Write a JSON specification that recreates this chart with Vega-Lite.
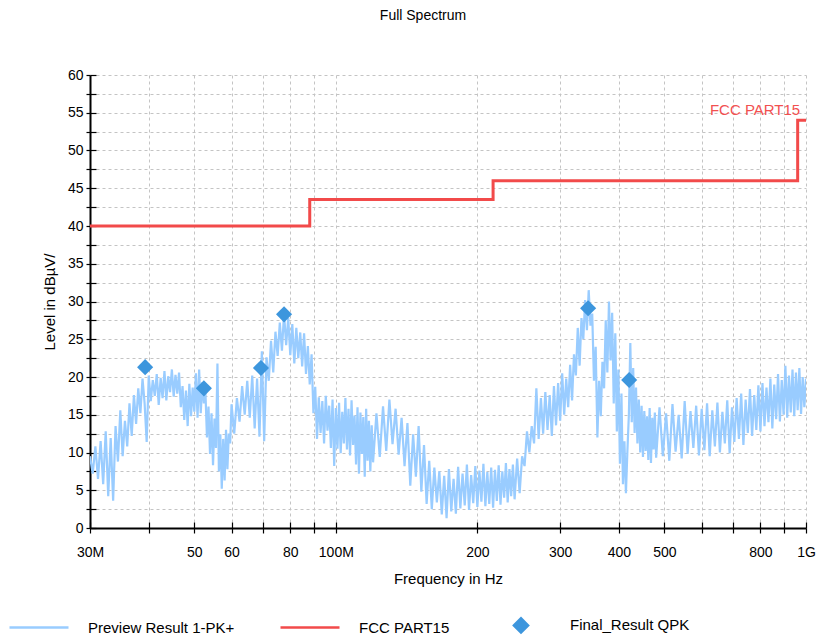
{
"$schema":"https://vega.github.io/schema/vega-lite/v6.json",
"width":716,"height":453,
"autosize":{"type":"none"},
"padding":{"left":90,"top":75,"right":18,"bottom":112},
"config":{"view":{"stroke":null},"font":"Liberation Sans"},
"title":{"text":"Full Spectrum","offset":45,"fontSize":14,"fontWeight":"normal","font":"Liberation Sans","color":"black","dx":-25},
"datasets":{
"spec":[
{"f":30.0,"v":9.5},{"f":30.4,"v":7.2},{"f":30.8,"v":10.8},{"f":31.2,"v":6.5},{"f":31.6,"v":11.5},{"f":32.0,"v":5.8},{"f":32.4,"v":12.8},{"f":32.8,"v":4.2},{"f":33.2,"v":11.9},{"f":33.6,"v":3.6},
{"f":34.0,"v":13.5},{"f":34.4,"v":8.8},{"f":34.8,"v":15.6},{"f":35.2,"v":9.5},{"f":35.6,"v":14.2},{"f":36.0,"v":10.8},{"f":36.4,"v":16.5},{"f":36.8,"v":12.2},{"f":37.2,"v":17.6},{"f":37.6,"v":13.8},
{"f":38.0,"v":18.5},{"f":38.4,"v":15.2},{"f":38.8,"v":19.8},{"f":39.2,"v":16.5},{"f":39.6,"v":11.4},{"f":40.0,"v":20.2},{"f":40.4,"v":16.8},{"f":40.8,"v":19.6},{"f":41.2,"v":17.5},{"f":41.6,"v":20.4},
{"f":42.0,"v":16.3},{"f":42.4,"v":19.9},{"f":42.8,"v":17.2},{"f":43.2,"v":20.8},{"f":43.6,"v":16.9},{"f":44.0,"v":20.1},{"f":44.4,"v":18.0},{"f":44.8,"v":21.0},{"f":45.2,"v":17.4},{"f":45.6,"v":20.3},
{"f":46.0,"v":17.8},{"f":46.4,"v":20.6},{"f":46.8,"v":16.0},{"f":47.2,"v":18.8},{"f":47.6,"v":14.3},{"f":48.0,"v":18.2},{"f":48.4,"v":13.5},{"f":48.8,"v":19.1},{"f":49.2,"v":14.8},{"f":49.6,"v":18.6},
{"f":50.0,"v":15.4},{"f":50.4,"v":20.5},{"f":50.8,"v":14.6},{"f":51.2,"v":21.0},{"f":51.6,"v":15.2},{"f":52.0,"v":19.3},{"f":52.4,"v":16.5},{"f":52.8,"v":18.0},{"f":53.2,"v":12.0},{"f":53.6,"v":16.1},
{"f":54.0,"v":9.8},{"f":54.4,"v":15.2},{"f":54.8,"v":8.3},{"f":55.2,"v":14.5},{"f":55.6,"v":10.6},{"f":56.0,"v":21.8},{"f":56.4,"v":7.5},{"f":56.8,"v":12.4},{"f":57.2,"v":5.2},{"f":57.6,"v":11.8},
{"f":58.0,"v":6.3},{"f":58.4,"v":13.0},{"f":58.8,"v":7.8},{"f":59.2,"v":12.5},{"f":59.6,"v":11.2},{"f":60.0,"v":16.4},
{"f":60.8,"v":12.5},{"f":61.6,"v":17.2},{"f":62.4,"v":14.1},{"f":63.2,"v":18.8},{"f":64.0,"v":15.0},{"f":64.8,"v":19.5},{"f":65.6,"v":14.6},{"f":66.4,"v":20.2},{"f":67.2,"v":13.2},{"f":68.0,"v":19.8},
{"f":68.8,"v":12.1},{"f":69.6,"v":23.4},{"f":70.4,"v":11.5},{"f":71.2,"v":22.6},{"f":72.0,"v":19.5},{"f":72.8,"v":24.8},{"f":73.6,"v":20.6},{"f":74.4,"v":26.0},{"f":75.2,"v":22.8},{"f":76.0,"v":27.2},
{"f":76.8,"v":23.5},{"f":77.6,"v":28.4},{"f":78.4,"v":24.2},{"f":79.2,"v":27.8},{"f":80.0,"v":22.9},{"f":80.8,"v":27.0},{"f":81.6,"v":21.8},{"f":82.4,"v":26.5},{"f":83.2,"v":22.5},{"f":84.0,"v":25.9},
{"f":84.8,"v":21.4},{"f":85.6,"v":25.8},{"f":86.4,"v":20.4},{"f":87.2,"v":24.1},{"f":88.0,"v":19.0},{"f":88.8,"v":23.0},{"f":89.6,"v":15.2},{"f":90.4,"v":18.7},{"f":91.2,"v":11.8},{"f":92.0,"v":17.3},
{"f":92.8,"v":12.6},{"f":93.6,"v":16.8},{"f":94.4,"v":11.2},{"f":95.2,"v":17.5},{"f":96.0,"v":12.9},{"f":96.8,"v":16.2},{"f":97.6,"v":10.6},{"f":98.4,"v":17.0},{"f":99.2,"v":8.2},{"f":100.0,"v":15.9},
{"f":100.8,"v":10.5},{"f":101.6,"v":16.6},{"f":102.4,"v":9.9},{"f":103.2,"v":15.4},{"f":104.0,"v":11.2},{"f":104.8,"v":17.2},{"f":105.6,"v":10.4},{"f":106.4,"v":15.8},{"f":107.2,"v":9.6},{"f":108.0,"v":16.9},
{"f":108.8,"v":11.0},{"f":109.6,"v":14.9},{"f":110.4,"v":8.4},{"f":111.2,"v":16.0},{"f":112.0,"v":7.2},{"f":112.8,"v":15.3},{"f":113.6,"v":9.8},{"f":114.4,"v":14.7},{"f":115.2,"v":6.8},{"f":116.0,"v":15.8},
{"f":116.8,"v":8.9},{"f":117.6,"v":14.2},{"f":118.4,"v":7.5},{"f":119.2,"v":13.6},{"f":120.0,"v":8.7},
{"f":122,"v":15.2},{"f":124,"v":9.4},{"f":126,"v":16.1},{"f":128,"v":10.2},{"f":130,"v":17.0},{"f":132,"v":11.1},{"f":134,"v":15.8},{"f":136,"v":9.7},{"f":138,"v":14.6},{"f":140,"v":8.2},
{"f":142,"v":13.9},{"f":144,"v":5.6},{"f":146,"v":12.4},{"f":148,"v":6.8},{"f":150,"v":13.5},{"f":152,"v":4.8},{"f":154,"v":11.0},{"f":156,"v":3.2},{"f":158,"v":8.9},{"f":160,"v":2.5},
{"f":162,"v":8.0},{"f":164,"v":3.4},{"f":166,"v":7.5},{"f":168,"v":1.8},{"f":170,"v":6.9},{"f":172,"v":1.3},{"f":174,"v":7.8},{"f":176,"v":2.2},{"f":178,"v":6.5},{"f":180,"v":1.9},
{"f":182,"v":8.1},{"f":184,"v":2.6},{"f":186,"v":7.2},{"f":188,"v":3.0},{"f":190,"v":8.4},{"f":192,"v":2.4},{"f":194,"v":7.0},{"f":196,"v":3.3},{"f":198,"v":8.2},{"f":200,"v":2.8},
{"f":202,"v":7.6},{"f":204,"v":3.5},{"f":206,"v":8.5},{"f":208,"v":2.9},{"f":210,"v":7.4},{"f":212,"v":3.2},{"f":214,"v":8.0},{"f":216,"v":2.7},{"f":218,"v":7.7},{"f":220,"v":3.6},
{"f":222,"v":8.3},{"f":224,"v":3.1},{"f":226,"v":7.5},{"f":228,"v":4.0},{"f":230,"v":8.6},{"f":232,"v":3.4},{"f":234,"v":7.8},{"f":236,"v":4.2},{"f":238,"v":8.4},{"f":240,"v":3.8},
{"f":243,"v":9.2},{"f":246,"v":4.6},{"f":249,"v":9.5},{"f":252,"v":8.2},{"f":255,"v":12.8},{"f":258,"v":10.0},{"f":261,"v":13.5},{"f":264,"v":11.2},{"f":267,"v":18.5},{"f":270,"v":11.8},
{"f":273,"v":17.2},{"f":276,"v":12.5},{"f":279,"v":18.0},{"f":282,"v":13.0},{"f":285,"v":17.6},{"f":288,"v":12.2},{"f":291,"v":18.8},{"f":294,"v":13.6},{"f":297,"v":19.2},{"f":300,"v":14.2},
{"f":303,"v":20.5},{"f":306,"v":15.0},{"f":309,"v":19.8},{"f":312,"v":16.0},{"f":315,"v":21.6},{"f":318,"v":16.9},{"f":321,"v":23.0},{"f":324,"v":20.2},{"f":327,"v":26.5},{"f":330,"v":21.5},
{"f":333,"v":27.8},{"f":336,"v":25.0},{"f":339,"v":30.2},{"f":342,"v":26.2},{"f":345,"v":31.5},{"f":348,"v":26.8},{"f":351,"v":28.4},{"f":354,"v":19.5},{"f":357,"v":24.0},{"f":360,"v":12.0},
{"f":363,"v":19.5},{"f":366,"v":14.8},{"f":369,"v":22.0},{"f":372,"v":18.5},{"f":375,"v":27.5},{"f":378,"v":20.6},{"f":381,"v":30.0},{"f":384,"v":22.2},{"f":387,"v":28.5},{"f":390,"v":16.5},
{"f":393,"v":25.8},{"f":396,"v":12.8},{"f":399,"v":21.0},{"f":402,"v":8.5},{"f":405,"v":17.8},{"f":408,"v":5.8},{"f":411,"v":11.5},{"f":414,"v":4.6},{"f":417,"v":10.2},{"f":420,"v":15.0},
{"f":423,"v":24.5},{"f":426,"v":14.0},{"f":429,"v":21.2},{"f":432,"v":12.6},{"f":435,"v":18.6},{"f":438,"v":11.2},{"f":441,"v":17.0},{"f":444,"v":10.0},{"f":447,"v":16.2},{"f":450,"v":9.4},
{"f":453,"v":15.5},{"f":456,"v":10.2},{"f":459,"v":14.8},{"f":462,"v":9.0},{"f":465,"v":15.9},{"f":468,"v":8.6},{"f":471,"v":14.6},{"f":474,"v":10.4},{"f":477,"v":15.3},{"f":480,"v":9.3},
{"f":488,"v":16.0},{"f":496,"v":9.5},{"f":504,"v":15.2},{"f":512,"v":8.9},{"f":520,"v":16.4},{"f":528,"v":10.1},{"f":536,"v":15.0},{"f":544,"v":9.2},{"f":552,"v":16.8},{"f":560,"v":9.8},
{"f":568,"v":15.5},{"f":576,"v":10.6},{"f":584,"v":16.2},{"f":592,"v":9.6},{"f":600,"v":15.8},{"f":608,"v":10.3},{"f":616,"v":16.5},{"f":624,"v":9.5},{"f":632,"v":15.6},{"f":640,"v":10.8},
{"f":648,"v":16.6},{"f":656,"v":10.0},{"f":664,"v":15.4},{"f":672,"v":11.2},{"f":680,"v":16.9},{"f":688,"v":9.9},{"f":696,"v":16.0},{"f":704,"v":11.4},{"f":712,"v":17.2},{"f":720,"v":11.8},
{"f":728,"v":17.8},{"f":736,"v":11.0},{"f":744,"v":17.0},{"f":752,"v":12.6},{"f":760,"v":18.4},{"f":768,"v":12.2},{"f":776,"v":17.6},{"f":784,"v":13.0},{"f":792,"v":18.9},{"f":800,"v":12.8},
{"f":808,"v":19.2},{"f":816,"v":13.5},{"f":824,"v":18.6},{"f":832,"v":14.0},{"f":840,"v":19.8},{"f":848,"v":13.2},{"f":856,"v":19.0},{"f":864,"v":14.4},{"f":872,"v":20.4},{"f":880,"v":14.1},
{"f":888,"v":19.6},{"f":896,"v":15.0},{"f":904,"v":21.5},{"f":912,"v":14.6},{"f":920,"v":20.2},{"f":928,"v":15.3},{"f":936,"v":21.0},{"f":944,"v":14.8},{"f":952,"v":20.6},{"f":960,"v":15.6},
{"f":968,"v":21.2},{"f":976,"v":15.1},{"f":984,"v":20.0},{"f":992,"v":16.0},{"f":1000,"v":19.8}
],
"limit":[{"f":30,"v":40},{"f":88,"v":43.5},{"f":216,"v":46},{"f":960,"v":54},{"f":1000,"v":54}],
"qpk":[{"f":39.3,"v":21.3},{"f":52.4,"v":18.5},{"f":69.3,"v":21.2},{"f":77.6,"v":28.3},{"f":344,"v":29.1},{"f":420.6,"v":19.6}],
"lbl":[{"f":972,"v":55.3,"t":"FCC PART15"}]
},
"layer":[
{"data":{"name":"spec"},
 "mark":{"type":"line","strokeWidth":2.2,"clip":true},
 "encoding":{
  "x":{"field":"f","type":"quantitative","scale":{"type":"log","domain":[30,1000],"nice":false},
   "axis":{"orient":"bottom","title":"Frequency in Hz","titleFontSize":15,"titleFontWeight":"normal","titleColor":"black","titlePadding":12,
    "values":[30,40,50,60,70,80,90,100,200,300,400,500,600,700,800,900,1000],
    "labelExpr":"datum.value==30?'30M':datum.value==100?'100M':datum.value==1000?'1G':(datum.value==40||datum.value==70||datum.value==90||datum.value==600||datum.value==700||datum.value==900)?'':''+datum.value",
    "labelFontSize":14,"labelColor":"black","labelPadding":12,"labelFlush":false,"labelOverlap":false,
    "tickSize":5,"tickColor":"black","tickWidth":1.2,"domainColor":"black","domainWidth":2,
    "grid":true,"gridColor":"#c4c4c4","gridDash":[3,3],"gridWidth":1}},
  "y":{"field":"v","type":"quantitative","scale":{"domain":[0,60],"nice":false},
   "axis":{"orient":"left","title":"Level in dBµV/","titleFontSize":15,"titleFontWeight":"normal","titleColor":"black","titlePadding":10,
    "values":[0,2.5,5,7.5,10,12.5,15,17.5,20,22.5,25,27.5,30,32.5,35,37.5,40,42.5,45,47.5,50,52.5,55,57.5,60],
    "labelExpr":"datum.value%5==0?''+datum.value:''",
    "labelFontSize":14,"labelColor":"black","labelPadding":3,"labelOverlap":false,"labelFlush":false,
    "tickSize":4,"tickColor":"black","tickWidth":1.2,"domainColor":"black","domainWidth":2,
    "grid":true,"gridColor":"#c4c4c4","gridDash":[3,3],"gridWidth":1}},
  "color":{"datum":"Preview Result 1-PK+","scale":{"domain":["Preview Result 1-PK+","FCC PART15","Final_Result QPK"],"range":["#99CCFF","#F24A4A","#3D96DD"]},
   "legend":{"orient":"none","legendX":-82,"legendY":519,"direction":"horizontal","columns":3,"columnPadding":40,"title":null,
    "symbolSize":3481,"symbolType":"stroke","symbolStrokeWidth":2.5,"labelFontSize":15,"labelColor":"black","labelOffset":18,"labelLimit":300,
    "encode":{"symbols":{"update":{
      "shape":{"signal":"datum.value==='Final_Result QPK'?'M-0.24,0L0,-0.24L0.24,0L0,0.24Z':'stroke'"},
      "fill":{"signal":"datum.value==='Final_Result QPK'?'#3D96DD':'transparent'"}}}}}}
 }},
{"data":{"name":"limit"},
 "mark":{"type":"line","interpolate":"step-after","strokeWidth":3},
 "encoding":{
  "x":{"field":"f","type":"quantitative","axis":{"orient":"bottom","values":[30,40,50,60,70,80,90,100,200,300,400,500,600,700,800,900,1000],"labels":false,"domain":false,"grid":false,"title":null,"tickSize":-6,"tickColor":"black","tickWidth":1.2}},
  "y":{"field":"v","type":"quantitative","axis":{"orient":"left","values":[0,2.5,5,7.5,10,12.5,15,17.5,20,22.5,25,27.5,30,32.5,35,37.5,40,42.5,45,47.5,50,52.5,55,57.5,60],"labels":false,"domain":false,"grid":false,"title":null,"tickSize":-6,"tickColor":"black","tickWidth":1.2}},
  "color":{"datum":"FCC PART15"}
 }},
{"data":{"name":"qpk"},
 "mark":{"type":"point","shape":"diamond","filled":true,"size":260,"opacity":1},
 "encoding":{
  "x":{"field":"f","type":"quantitative","axis":null},
  "y":{"field":"v","type":"quantitative","axis":null},
  "color":{"datum":"Final_Result QPK"}
 }},
{"data":{"name":"lbl"},
 "mark":{"type":"text","align":"right","baseline":"middle","fontSize":15,"color":"#F25050"},
 "encoding":{
  "x":{"field":"f","type":"quantitative","axis":null},
  "y":{"field":"v","type":"quantitative","axis":null},
  "text":{"field":"t"}
 }}
],
"resolve":{"axis":{"x":"independent","y":"independent"}}
}
